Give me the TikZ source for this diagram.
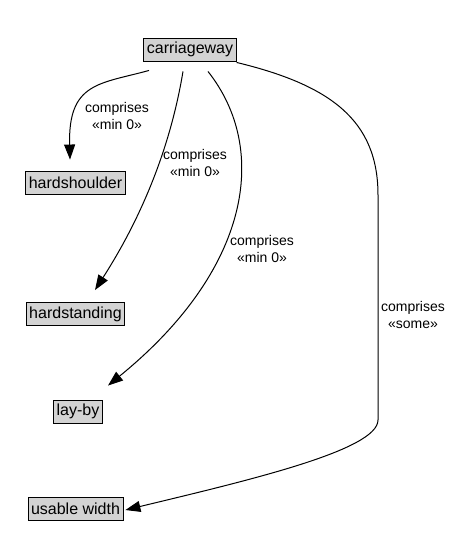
\documentclass[tikz,border=0pt]{standalone}
\usepackage{fontspec}
\setmainfont{Liberation Sans}
\usetikzlibrary{arrows.meta,calc}
\begin{document}
\begin{tikzpicture}[x=1pt,y=-1pt,
  box/.style={draw=black,fill={rgb,255:red,211;green,211;blue,211},line width=0.9pt,
    font=\fontsize{16}{18}\selectfont,inner xsep=3pt,inner ysep=0pt,minimum height=23pt,anchor=center},
  edge/.style={line width=1pt,-{Triangle[length=15pt,width=11pt]}},
  lbl/.style={font=\fontsize{14}{17}\selectfont,align=center,inner sep=0pt}]
\useasboundingbox (0,0) rectangle (456,560);
\node[box] (cw) at (190,49.5) {carriageway};
\node[box] (hs) at (75.5,182.5) {hardshoulder};
\node[box] (hst) at (75.5,314) {hardstanding};
\node[box] (lb) at (78,411.5) {lay-by};
\node[box] (uw) at (75.5,509) {usable width};
% edge 1
\draw[edge] ($(cw.south)+(-41,9)$) .. controls (100,84) and (68,82) .. ($(hs.north)+(-5.5,-11)$);
\node[lbl] (l1) at (117,116) {comprises\\«min 0»};
% edge 2
\draw[edge] ($(cw.south)+(-7,10)$) .. controls (170,150) and (140,220) .. ($(hst.north)+(19.5,-12)$);
\node[lbl] (l2) at (195,163) {comprises\\«min 0»};
% edge 3
\draw[edge] ($(cw.south)+(18,10)$) .. controls (270,150) and (250,270) .. ($(lb.north)+(30,-14)$);
\node[lbl] (l3) at (262,249) {comprises\\«min 0»};
% edge 4
\draw[edge] ($(cw.south east)+(0,1)$) .. controls (330,85) and (378,120) .. (378,195)
  -- (378,420) .. controls (378,450) and (250,480) .. ($(uw.east)+(2,1)$);
\node[lbl] (l4) at (413,315) {comprises\\«some»};
\end{tikzpicture}
\end{document}
